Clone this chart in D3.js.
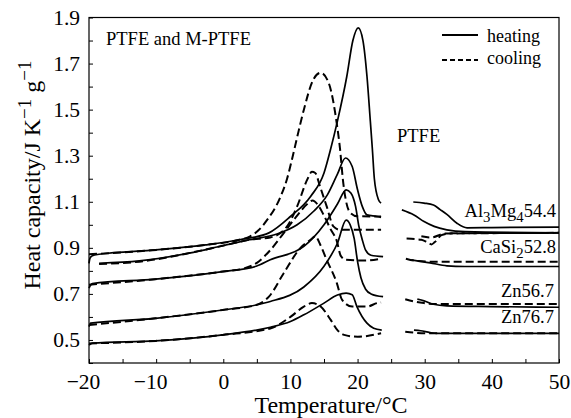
<!DOCTYPE html>
<html><head><meta charset="utf-8">
<script src="https://cdn.jsdelivr.net/npm/d3@7"></script>
<style>
body{margin:0;background:#fff}
svg{display:block}
text{font-family:"Liberation Serif","Times New Roman",serif;fill:#000}
</style>
</head><body><svg id="c" width="571" height="418"></svg>
<script>
// ---- data ----
const xTicks = [-20, -10, 0, 10, 20, 30, 40, 50];
const xMinorTicks = [-15, -5, 5, 15, 25, 35, 45];
const yTicks = [0.5, 0.7, 0.9, 1.1, 1.3, 1.5, 1.7, 1.9];
const yMinorTicks = [0.4, 0.6, 0.8, 1.0, 1.2, 1.4, 1.6, 1.8];

// [temperature °C, heat capacity J K-1 g-1]
const ptfeHeatingLow = [[-20,0.833],[-19.85,0.855],[-19.5,0.866],[-18.5,0.872],[-10,0.891],[-2.6,0.913],[2.4,0.935],[6.8,0.965],[10,1.036],[13,1.123],[15,1.225],[16,1.33],[17,1.45],[18.4,1.645],[19.3,1.80],[20.1,1.855],[20.8,1.80],[21.4,1.645],[21.9,1.45],[22.2,1.33],[22.5,1.2],[23.1,1.11],[23.5,1.094]];
const ptfeHeatingHigh = [[28.3,1.099],[29.9,1.094],[31.3,1.086],[32.3,1.066],[33.3,1.045],[34.8,1.007],[36.3,0.987],[40,0.988],[50,0.99]];
const ptfeCoolingLow = [[-20,0.872],[-10,0.891],[-2.6,0.913],[2.4,0.935],[4,0.95],[5.2,0.975],[6.5,1.02],[8.5,1.12],[9.5,1.2],[10.2,1.28],[11,1.38],[12,1.5],[13.4,1.63],[14.5,1.66],[15.7,1.616],[16.9,1.44],[17.4,1.326],[17.8,1.2],[18.3,1.1],[19,1.05],[20,1.037],[23.5,1.036]];
const ptfeCoolingHigh = [[27.3,0.94],[29.5,0.935],[30.5,0.922],[31,0.915],[31.5,0.925],[32.5,0.955],[34,0.963],[50,0.965]];

const al3mg4HeatingLow = [[-18.5,0.833],[-12.5,0.843],[-5.1,0.877],[-0.1,0.909],[3.9,0.935],[8,0.96],[11,1.0],[13.5,1.06],[15.5,1.13],[17,1.22],[18.2,1.29],[19.2,1.253],[20,1.152],[20.7,1.08],[21.4,1.043],[22.9,1.036],[23.5,1.032]];
const al3mg4HeatingHigh = [[26.6,1.065],[28.4,1.043],[29.9,1.014],[31.4,0.993],[33.3,0.978],[36,0.97],[50,0.965]];
const al3mg4CoolingLow = [[-18.5,0.83],[-12.5,0.84],[-5.1,0.877],[-0.1,0.909],[3.9,0.935],[7,0.945],[9.5,0.993],[11,1.08],[12.5,1.196],[13.2,1.23],[13.7,1.225],[14.4,1.167],[15.4,1.08],[16.4,0.993],[17.4,0.978],[23.5,0.978]];
const al3mg4CoolingHigh = [[29.5,0.95],[31,0.945],[33,0.962],[50,0.965]];

const casi2HeatingLow = [[-20,0.725],[-19.75,0.739],[-19.5,0.745],[-10.1,0.764],[-0.1,0.797],[4.9,0.82],[7,0.848],[12,0.906],[15,1.0],[17,1.09],[18.3,1.152],[19,1.138],[19.7,1.08],[20.2,0.993],[20.7,0.935],[21.2,0.89],[22,0.868],[23.8,0.862]];
const casi2HeatingHigh = [[28,0.848],[30.8,0.835],[33.3,0.822],[36,0.819],[50,0.819]];
const casi2CoolingLow = [[-20,0.74],[-10.1,0.764],[-0.1,0.797],[3,0.81],[5,0.835],[7,0.89],[9,0.964],[11,1.04],[12.5,1.09],[13.3,1.105],[14,1.09],[15,1.04],[16,0.98],[16.9,0.93],[17.5,0.865],[18.3,0.848],[21,0.845],[23.5,0.853]];
const casi2CoolingHigh = [[27.2,0.853],[28.4,0.845],[30.8,0.84],[50,0.84]];

const zn567HeatingLow = [[-20,0.558],[-19.75,0.573],[-10.1,0.594],[-0.1,0.63],[4.9,0.652],[7,0.667],[12,0.73],[15,0.82],[17,0.92],[18.3,1.02],[18.9,1.0],[19.5,0.94],[20,0.84],[20.5,0.77],[21.2,0.72],[22,0.70],[23.8,0.688]];
const zn567HeatingHigh = [[28.9,0.677],[29.9,0.67],[31.3,0.655],[33.3,0.648],[39.8,0.645],[50,0.642]];
const zn567CoolingLow = [[-20,0.565],[-10.1,0.594],[-0.1,0.63],[4.9,0.652],[6.8,0.688],[9,0.79],[11.5,0.9],[13,0.935],[13.7,0.95],[14.5,0.91],[15.4,0.848],[16.9,0.748],[17.7,0.674],[19.2,0.645],[21.4,0.645],[22.9,0.66],[23.5,0.663]];
const zn567CoolingHigh = [[27.1,0.677],[28.4,0.667],[29.9,0.66],[31.8,0.656],[50,0.656]];

const zn767HeatingLow = [[-20,0.478],[-19.5,0.486],[-10.1,0.496],[-0.1,0.522],[7,0.555],[10,0.58],[12,0.609],[15,0.66],[17,0.695],[18.3,0.703],[19.2,0.696],[19.9,0.645],[21.4,0.573],[22.4,0.551],[23.6,0.543]];
const zn767HeatingHigh = [[28.4,0.543],[29.4,0.54],[30.8,0.532],[31.8,0.529],[50,0.529]];
const zn767CoolingLow = [[-20,0.485],[-10.1,0.496],[-0.1,0.522],[7,0.55],[10,0.60],[12,0.645],[13.2,0.66],[14.5,0.645],[16,0.587],[17,0.543],[18,0.522],[20,0.514],[23.5,0.529]];
const zn767CoolingHigh = [[27.1,0.536],[28.4,0.532],[30,0.529],[50,0.529]];

const heatingSeries = [ptfeHeatingLow, ptfeHeatingHigh, al3mg4HeatingLow, al3mg4HeatingHigh, casi2HeatingLow, casi2HeatingHigh, zn567HeatingLow, zn567HeatingHigh, zn767HeatingLow, zn767HeatingHigh];
const coolingSeries = [ptfeCoolingLow, ptfeCoolingHigh, al3mg4CoolingLow, al3mg4CoolingHigh, casi2CoolingLow, casi2CoolingHigh, zn567CoolingLow, zn567CoolingHigh, zn767CoolingLow, zn767CoolingHigh];

// ---- chart ----
const svg = d3.select('#c');
const L = 89, R = 559, T = 17.5, B = 363;
const x = d3.scaleLinear().domain([-20, 50]).range([L, R]);
const y = d3.scaleLinear().domain([0.4, 1.9]).range([B, T]);

const fmtX = d3.format("d"), fmtY = d3.format(".1f");

const xAxis = d3.axisBottom(x)
  .tickValues(xTicks.concat(xMinorTicks))
  .tickSize(-4).tickSizeOuter(0).tickPadding(11)
  .tickFormat(d => xTicks.includes(d) ? fmtX(d) : "");
const yAxis = d3.axisLeft(y)
  .tickValues(yTicks.concat(yMinorTicks))
  .tickSize(-4).tickSizeOuter(0).tickPadding(9)
  .tickFormat(d => yTicks.some(v => Math.abs(v - d) < 1e-9) ? fmtY(d) : "");

const gx = svg.append('g').attr('transform', `translate(0,${B})`).call(xAxis);
const gy = svg.append('g').attr('transform', `translate(${L},0)`).call(yAxis);
[gx, gy].forEach(g => {
  g.selectAll('text').style('font-family', '"Liberation Serif","Times New Roman",serif').style('font-size', '21.5px').attr('fill', '#000');
  g.selectAll('line').attr('stroke', '#000').attr('stroke-width', 1);
  g.select('.domain').attr('stroke', 'none');
});
// minus sign hangs to the left of the centred digits
gx.selectAll('.tick text').attr('dx', d => d < 0 ? '-0.28em' : 0);

svg.append('rect').attr('x', L).attr('y', T).attr('width', R - L).attr('height', B - T)
  .attr('fill', 'none').attr('stroke', '#000').attr('stroke-width', 1.2);

const line = d3.line().x(d => x(d[0])).y(d => y(d[1])).curve(d3.curveMonotoneX);

svg.append('g').selectAll('path').data(heatingSeries).join('path')
  .attr('d', line).attr('fill', 'none').attr('stroke', '#000').attr('stroke-width', 1.7);
svg.append('g').selectAll('path').data(coolingSeries).join('path')
  .attr('d', line).attr('fill', 'none').attr('stroke', '#000').attr('stroke-width', 2)
  .attr('stroke-dasharray', '8,4');

// legend
svg.append('line').attr('x1', 442).attr('x2', 478).attr('y1', 35).attr('y2', 35).attr('stroke', '#000').attr('stroke-width', 2);
svg.append('line').attr('x1', 442).attr('x2', 478).attr('y1', 60).attr('y2', 60).attr('stroke', '#000').attr('stroke-width', 2).attr('stroke-dasharray', '5,3');
svg.append('text').attr('x', 487).attr('y', 42).style('font-size', '18px').text('heating');
svg.append('text').attr('x', 487).attr('y', 64).style('font-size', '18px').text('cooling');

// annotations
svg.append('text').attr('x', 106).attr('y', 45).style('font-size', '18.5px').text('PTFE and M-PTFE');
svg.append('text').attr('x', 397).attr('y', 142).style('font-size', '18.5px').text('PTFE');

function sub(t, parts, size) {
  parts.forEach(p => {
    if (p.s) t.append('tspan').attr('dy', 5).style('font-size', (size * 0.8) + 'px').text(p.s);
    else t.append('tspan').attr('dy', p.after ? -5 : 0).text(p.t);
  });
}
const lab = (yy, parts, xx) => {
  const t = svg.append('text').attr('x', xx).attr('y', yy).attr('text-anchor', 'end').style('font-size', '18.5px');
  sub(t, parts, 18.5);
};
lab(217, [{t:'Al'},{s:'3'},{t:'Mg', after:true},{s:'4'},{t:'54.4', after:true}], 556);
lab(253, [{t:'CaSi'},{s:'2'},{t:'52.8', after:true}], 556);
lab(297, [{t:'Zn56.7'}], 554);
lab(323, [{t:'Zn76.7'}], 554);

// axis titles
svg.append('text').attr('x', 331).attr('y', 413).attr('text-anchor', 'middle').style('font-size', '24px').text('Temperature/°C');
const yt = svg.append('text').attr('transform', 'translate(40,175) rotate(-90)').attr('text-anchor', 'middle').style('font-size', '24px');
yt.append('tspan').text('Heat capacity/J K');
yt.append('tspan').attr('dy', -9).style('font-size', '19px').text('−1');
yt.append('tspan').attr('dy', 9).text(' g');
yt.append('tspan').attr('dy', -9).style('font-size', '19px').text('−1');
</script>
</body></html>
